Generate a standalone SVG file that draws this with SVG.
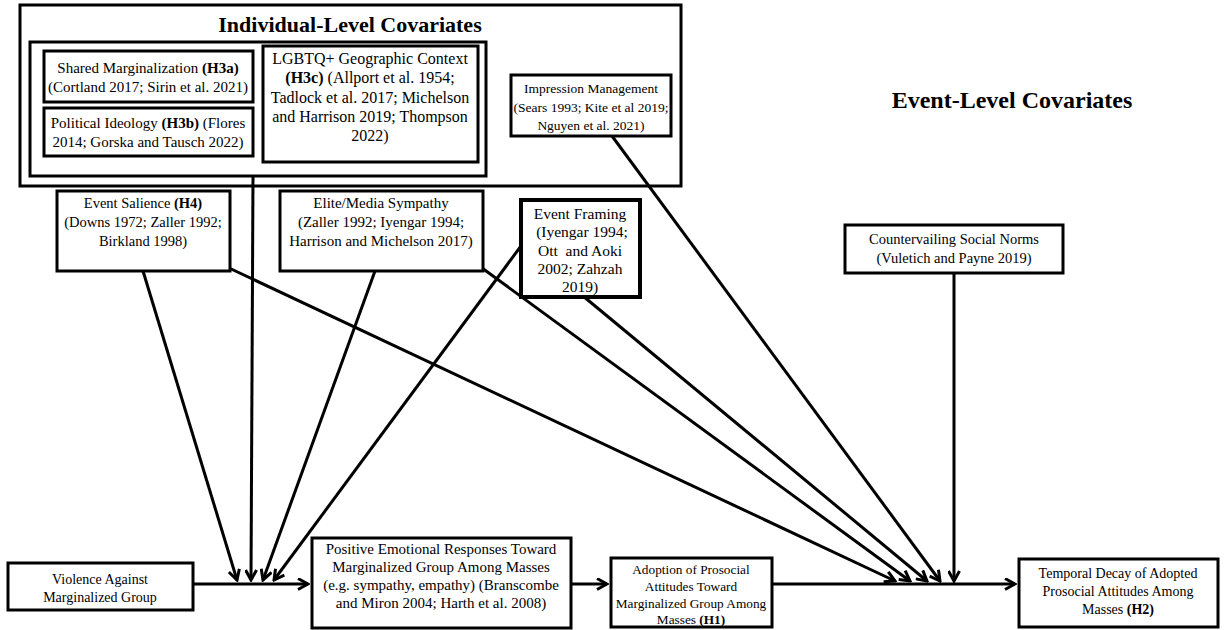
<svg xmlns="http://www.w3.org/2000/svg" width="1225" height="630" viewBox="0 0 1225 630">
<defs>
<marker id="ah" markerWidth="13" markerHeight="13" refX="11" refY="6.5" orient="auto" markerUnits="userSpaceOnUse">
<path d="M1,1 L11,6.5 L1,12" fill="none" stroke="#000" stroke-width="3" stroke-linejoin="miter"/>
</marker>
<style>
.box{fill:#fff;stroke:#000;stroke-width:3}
.thick{stroke-width:4}
.t{font-family:"Liberation Serif","Times New Roman",serif;font-size:14px;fill:#000;text-anchor:middle}
.title{font-family:"Liberation Serif","Times New Roman",serif;font-size:22px;font-weight:bold;fill:#000;text-anchor:middle}
.b{font-weight:bold}
.c{fill:none;stroke:#000;stroke-width:3}
</style>
</defs>
<rect width="1225" height="630" fill="#fff"/>

<g id="individual-level">
<rect class="box" x="20" y="5" width="661" height="181"/>
<text class="title" x="350" y="32">Individual-Level Covariates</text>
<rect class="box" x="30" y="42" width="456" height="134"/>
</g>

<g id="event-level-title">
<text class="title" x="1012" y="108" style="font-size:24px">Event-Level Covariates</text>
</g>

<g id="connectors">
<line class="c" x1="253" y1="176" x2="251" y2="580" marker-end="url(#ah)"/>
<line class="c" x1="143" y1="271" x2="237" y2="580" marker-end="url(#ah)"/>
<line class="c" x1="375" y1="271" x2="263" y2="580" marker-end="url(#ah)"/>
<line class="c" x1="521" y1="246" x2="274" y2="580" marker-end="url(#ah)"/>
<line class="c" x1="229" y1="268" x2="895" y2="581" marker-end="url(#ah)"/>
<line class="c" x1="482" y1="268" x2="910" y2="581" marker-end="url(#ah)"/>
<line class="c" x1="583" y1="296" x2="927" y2="581" marker-end="url(#ah)"/>
<line class="c" x1="612" y1="136" x2="940" y2="581" marker-end="url(#ah)"/>
<line class="c" x1="954" y1="273" x2="954" y2="581" marker-end="url(#ah)"/>
<line class="c" x1="193" y1="584" x2="308" y2="584" marker-end="url(#ah)"/>
<line class="c" x1="571" y1="584" x2="607" y2="584" marker-end="url(#ah)"/>
<line class="c" x1="772" y1="584" x2="1015" y2="584" marker-end="url(#ah)"/>
</g>

<g id="shared-marginalization">
<rect class="box" x="44" y="51" width="209" height="51"/>
<text class="t" x="148" y="73" style="font-size:15px">Shared Marginalization <tspan class="b">(H3a)</tspan></text>
<text class="t" x="148" y="92" style="font-size:15px">(Cortland 2017; Sirin et al. 2021)</text>
</g>

<g id="political-ideology">
<rect class="box" x="44" y="108" width="209" height="48"/>
<text class="t" x="148" y="128" style="font-size:15px">Political Ideology <tspan class="b">(H3b)</tspan> (Flores</text>
<text class="t" x="148" y="147" style="font-size:15px">2014; Gorska and Tausch 2022)</text>
</g>

<g id="lgbtq-context">
<rect class="box" x="263" y="46" width="215" height="116"/>
<text class="t" x="370" y="64" style="font-size:16px">LGBTQ+ Geographic Context</text>
<text class="t" x="370" y="83" style="font-size:16px"><tspan class="b">(H3c)</tspan> (Allport et al. 1954;</text>
<text class="t" x="370" y="103" style="font-size:16px">Tadlock et al. 2017; Michelson</text>
<text class="t" x="370" y="122" style="font-size:16px">and Harrison 2019; Thompson</text>
<text class="t" x="370" y="141" style="font-size:16px">2022)</text>
</g>

<g id="impression-management">
<rect class="box" x="511" y="75" width="160" height="61"/>
<text class="t" x="591" y="93" style="font-size:13.5px">Impression Management</text>
<text class="t" x="591" y="112" style="font-size:13.5px">(Sears 1993; Kite et al 2019;</text>
<text class="t" x="591" y="130" style="font-size:13.5px">Nguyen et al. 2021)</text>
</g>

<g id="event-salience">
<rect class="box" x="57" y="191" width="173" height="80"/>
<text class="t" x="143" y="208" style="font-size:14.5px">Event Salience <tspan class="b">(H4)</tspan></text>
<text class="t" x="143" y="227" style="font-size:14.5px">(Downs 1972; Zaller 1992;</text>
<text class="t" x="143" y="246" style="font-size:14.5px">Birkland 1998)</text>
</g>

<g id="elite-media">
<rect class="box" x="280" y="191" width="203" height="80"/>
<text class="t" x="381" y="208" style="font-size:15px">Elite/Media Sympathy</text>
<text class="t" x="381" y="227" style="font-size:15px">(Zaller 1992; Iyengar 1994;</text>
<text class="t" x="381" y="246" style="font-size:15px">Harrison and Michelson 2017)</text>
</g>

<g id="event-framing">
<rect class="box thick" x="521" y="200" width="119" height="97"/>
<text class="t" x="580" y="219" style="font-size:15.5px">Event Framing</text>
<text class="t" x="582" y="237" style="font-size:15.5px">(Iyengar 1994;</text>
<text class="t" x="580" y="256" style="font-size:15.5px" xml:space="preserve">Ott  and Aoki</text>
<text class="t" x="580" y="274" style="font-size:15.5px">2002; Zahzah</text>
<text class="t" x="580" y="292" style="font-size:15.5px">2019)</text>
</g>

<g id="countervailing">
<rect class="box" x="845" y="225" width="218" height="48"/>
<text class="t" x="954" y="244" style="font-size:14.5px">Countervailing Social Norms</text>
<text class="t" x="954" y="263" style="font-size:14.5px">(Vuletich and Payne 2019)</text>
</g>

<g id="violence">
<rect class="box" x="8" y="563" width="185" height="47"/>
<text class="t" x="100" y="584">Violence Against</text>
<text class="t" x="100" y="602">Marginalized Group</text>
</g>

<g id="positive-emotional">
<rect class="box" x="312" y="538" width="259" height="90"/>
<text class="t" x="441" y="554" style="font-size:15px">Positive Emotional Responses Toward</text>
<text class="t" x="441" y="572" style="font-size:15px">Marginalized Group Among Masses</text>
<text class="t" x="441" y="590" style="font-size:15px">(e.g. sympathy, empathy) (Branscombe</text>
<text class="t" x="441" y="608" style="font-size:15px">and Miron 2004; Harth et al. 2008)</text>
</g>

<g id="adoption">
<rect class="box" x="611" y="558" width="161" height="69"/>
<text class="t" x="691" y="574" style="font-size:13.3px">Adoption of Prosocial</text>
<text class="t" x="691" y="591" style="font-size:13.3px">Attitudes Toward</text>
<text class="t" x="691" y="608" style="font-size:13.3px">Marginalized Group Among</text>
<text class="t" x="691" y="624" style="font-size:13.3px">Masses <tspan class="b">(H1)</tspan></text>
</g>

<g id="temporal-decay">
<rect class="box" x="1019" y="559" width="199" height="68"/>
<text class="t" x="1118" y="578">Temporal Decay of Adopted</text>
<text class="t" x="1118" y="596">Prosocial Attitudes Among</text>
<text class="t" x="1118" y="614">Masses <tspan class="b">(H2)</tspan></text>
</g>
</svg>
